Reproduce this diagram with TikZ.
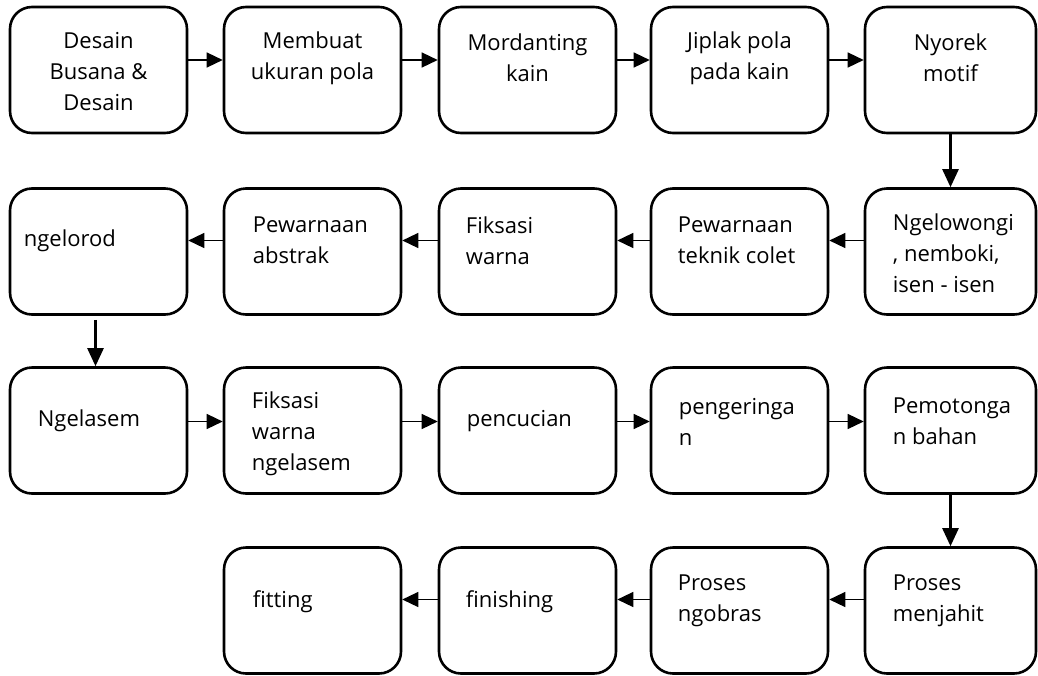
\documentclass[tikz,border=0pt]{standalone}
\usepackage{fontspec}
\setmainfont{Open Sans}
\usepackage{tikz}
\usetikzlibrary{arrows.meta}

\tikzset{
	stepbox/.style={draw, line width=2.6pt, rounded corners=22pt, minimum width=177pt, minimum height=126pt, inner sep=0pt},
	steptext/.style={anchor=west, align=left, inner sep=0pt, font=\fontsize{22}{31}\selectfont},
	toptext/.style={align=center, inner sep=0pt, font=\fontsize{22}{31}\selectfont},
	flow/.style={-{Triangle[length=16pt, width=15pt]}, line width=1.4pt},
	flowdown/.style={-{Triangle[length=18pt, width=16pt]}, line width=2.5pt},
}

\begin{document}
\begin{tikzpicture}[x=1pt, y=-1pt]
	\fill[white] (0,0) rectangle (1038,675);
	\useasboundingbox (0,0) rectangle (1038,675);
	% row 1
	\node[stepbox] (desain) at (98.5,70) {};
	\node[stepbox] (membuat) at (312.5,70) {};
	\node[stepbox] (mordanting) at (527.5,70) {};
	\node[stepbox] (jiplak) at (739.5,70) {};
	\node[stepbox, minimum width=171pt] (nyorek) at (950.5,70) {};
	\node[toptext] (desain-t) at ([yshift=-2pt]desain.center) {Desain\\Busana \&\\Desain};
	\node[toptext] (membuat-t) at ([yshift=12pt]membuat.center) {Membuat\\ukuran pola};
	\node[toptext] (mordanting-t) at ([yshift=12pt]mordanting.center) {Mordanting\\kain};
	\node[toptext] (jiplak-t) at ([yshift=12pt]jiplak.center) {Jiplak pola\\pada kain};
	\node[toptext] (nyorek-t) at ([yshift=12pt]nyorek.center) {Nyorek\\motif};
	% row 2
	\node[stepbox] (ngelorod) at (98.5,251.5) {};
	\node[stepbox] (abstrak) at (312.5,251.5) {};
	\node[stepbox] (fiksasi) at (527.5,251.5) {};
	\node[stepbox] (colet) at (739.5,251.5) {};
	\node[stepbox, minimum width=171pt] (ngelowongi) at (950.5,251.5) {};
	\node[steptext] (ngelorod-t) at ([xshift=15pt, yshift=11pt]ngelorod.west) {ngelorod};
	\node[steptext] (abstrak-t) at ([xshift=30pt, yshift=11pt]abstrak.west) {Pewarnaan\\abstrak};
	\node[steptext] (fiksasi-t) at ([xshift=28pt, yshift=11pt]fiksasi.west) {Fiksasi\\warna};
	\node[steptext] (colet-t) at ([xshift=28pt, yshift=11pt]colet.west) {Pewarnaan\\teknik colet};
	\node[steptext] (ngelowongi-t) at ([xshift=29pt, yshift=-2pt]ngelowongi.west) {Ngelowongi\\, nemboki,\\isen - isen};
	% row 3
	\node[stepbox] (ngelasem) at (98.5,430.5) {};
	\node[stepbox] (fiksasi2) at (312.5,430.5) {};
	\node[stepbox] (pencucian) at (527.5,430.5) {};
	\node[stepbox] (pengeringan) at (739.5,430.5) {};
	\node[stepbox, minimum width=171pt] (pemotongan) at (950.5,430.5) {};
	\node[steptext] (ngelasem-t) at ([xshift=29pt, yshift=10pt]ngelasem.west) {Ngelasem};
	\node[steptext] (fiksasi2-t) at ([xshift=29pt, yshift=-3pt]fiksasi2.west) {Fiksasi\\warna\\ngelasem};
	\node[steptext] (pencucian-t) at ([xshift=29pt, yshift=9pt]pencucian.west) {pencucian};
	\node[steptext] (pengeringan-t) at ([xshift=29pt, yshift=9pt]pengeringan.west) {pengeringa\\n};
	\node[steptext] (pemotongan-t) at ([xshift=29pt, yshift=9pt]pemotongan.west) {Pemotonga\\n bahan};
	% row 4
	\node[stepbox] (fitting) at (312.5,610.5) {};
	\node[stepbox] (finishing) at (527.5,610.5) {};
	\node[stepbox] (ngobras) at (739.5,610.5) {};
	\node[stepbox, minimum width=171pt] (menjahit) at (950.5,610.5) {};
	\node[steptext] (fitting-t) at ([xshift=30pt, yshift=9pt]fitting.west) {fitting};
	\node[steptext] (finishing-t) at ([xshift=28pt, yshift=9pt]finishing.west) {finishing};
	\node[steptext] (ngobras-t) at ([xshift=28pt, yshift=10pt]ngobras.west) {Proses\\ngobras};
	\node[steptext] (menjahit-t) at ([xshift=29pt, yshift=10pt]menjahit.west) {Proses\\menjahit};
	% arrows
	\draw[flow] ([yshift=10pt]desain.east) -- ([yshift=10pt]membuat.west);
	\draw[flow] ([yshift=10pt]membuat.east) -- ([yshift=10pt]mordanting.west);
	\draw[flow] ([yshift=10pt]mordanting.east) -- ([yshift=10pt]jiplak.west);
	\draw[flow] ([yshift=10pt]jiplak.east) -- ([yshift=10pt]nyorek.west);
	\draw[flowdown] (nyorek.south) -- (ngelowongi.north);
	\draw[flow] ([yshift=11pt]ngelowongi.west) -- ([yshift=11pt]colet.east);
	\draw[flow] ([yshift=11pt]colet.west) -- ([yshift=11pt]fiksasi.east);
	\draw[flow] ([yshift=11pt]fiksasi.west) -- ([yshift=11pt]abstrak.east);
	\draw[flow] ([yshift=11pt]abstrak.west) -- ([yshift=11pt]ngelorod.east);
	\draw[flowdown] ([xshift=-3pt, yshift=-4pt]ngelorod.south) -- ([xshift=-3pt]ngelasem.north);
	\draw[flow] ([yshift=9pt]ngelasem.east) -- ([yshift=9pt]fiksasi2.west);
	\draw[flow] ([yshift=9pt]fiksasi2.east) -- ([yshift=9pt]pencucian.west);
	\draw[flow] ([yshift=9pt]pencucian.east) -- ([yshift=9pt]pengeringan.west);
	\draw[flow] ([yshift=9pt]pengeringan.east) -- ([yshift=9pt]pemotongan.west);
	\draw[flowdown] (pemotongan.south) -- (menjahit.north);
	\draw[flow] ([yshift=11pt]menjahit.west) -- ([yshift=11pt]ngobras.east);
	\draw[flow] ([yshift=11pt]ngobras.west) -- ([yshift=11pt]finishing.east);
	\draw[flow] ([yshift=11pt]finishing.west) -- ([yshift=11pt]fitting.east);
\end{tikzpicture}
\end{document}
